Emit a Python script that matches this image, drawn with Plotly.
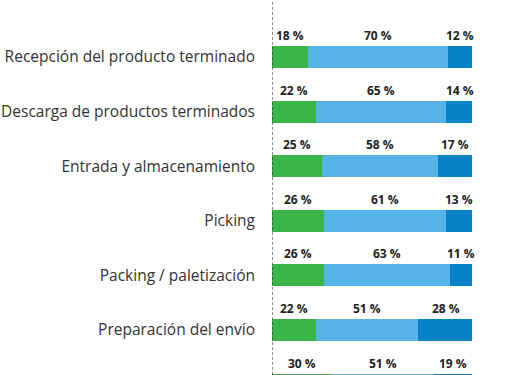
import plotly.graph_objects as go

categories = [
    "Recepción del producto terminado",
    "Descarga de productos terminados",
    "Entrada y almacenamiento",
    "Picking",
    "Packing / paletización",
    "Preparación del envío",
    "",
]
green_vals = [18, 22, 25, 26, 26, 22, 30]
light_vals = [70, 65, 58, 61, 63, 51, 51]
dark_vals = [12, 14, 17, 13, 11, 28, 19]

series = [
    ("green", green_vals, "#39b54a"),
    ("light", light_vals, "#56b4e6"),
    ("dark", dark_vals, "#0782c8"),
]

ypos = list(range(len(categories)))
BAR_W = 0.403

fig = go.Figure()
for name, vals, color in series:
    fig.add_trace(go.Bar(
        y=ypos, x=vals, orientation="h", name=name,
        marker=dict(color=color, line=dict(width=0)),
        width=BAR_W, showlegend=False, hoverinfo="skip",
    ))

annotations = []
for i in ypos:
    start = 0
    for name, vals, color in series:
        v = vals[i]
        annotations.append(dict(
            x=start + v / 2, y=i - BAR_W / 2, xref="x", yref="y",
            yanchor="bottom", yshift=0,
            text=f"{v} %", showarrow=False,
            font=dict(family="Open Sans, sans-serif", size=12, color="#222222", weight="bold"),
        ))
        start += v

fig.update_layout(
    width=506, height=375,
    margin=dict(l=272, r=34, t=0, b=0),
    barmode="stack",
    plot_bgcolor="white", paper_bgcolor="white",
    xaxis=dict(range=[0, 100], visible=False, fixedrange=True),
    yaxis=dict(
        range=[5.824, -1.044], tickvals=ypos, ticktext=categories,
        showgrid=False, zeroline=False, showline=False, ticks="",
        ticklabelstandoff=16, fixedrange=True,
        tickfont=dict(family="Open Sans, sans-serif", size=15.5, color="#333333"),
    ),
    annotations=annotations,
    shapes=[dict(type="line", xref="x", yref="paper", x0=0, x1=0, y0=0, y1=1,
                 line=dict(color="#222222", width=1, dash="3px,2px"), layer="above")],
)

fig.write_html("out.html", config={"displayModeBar": False},
               post_script="document.body.style.margin='0';")
